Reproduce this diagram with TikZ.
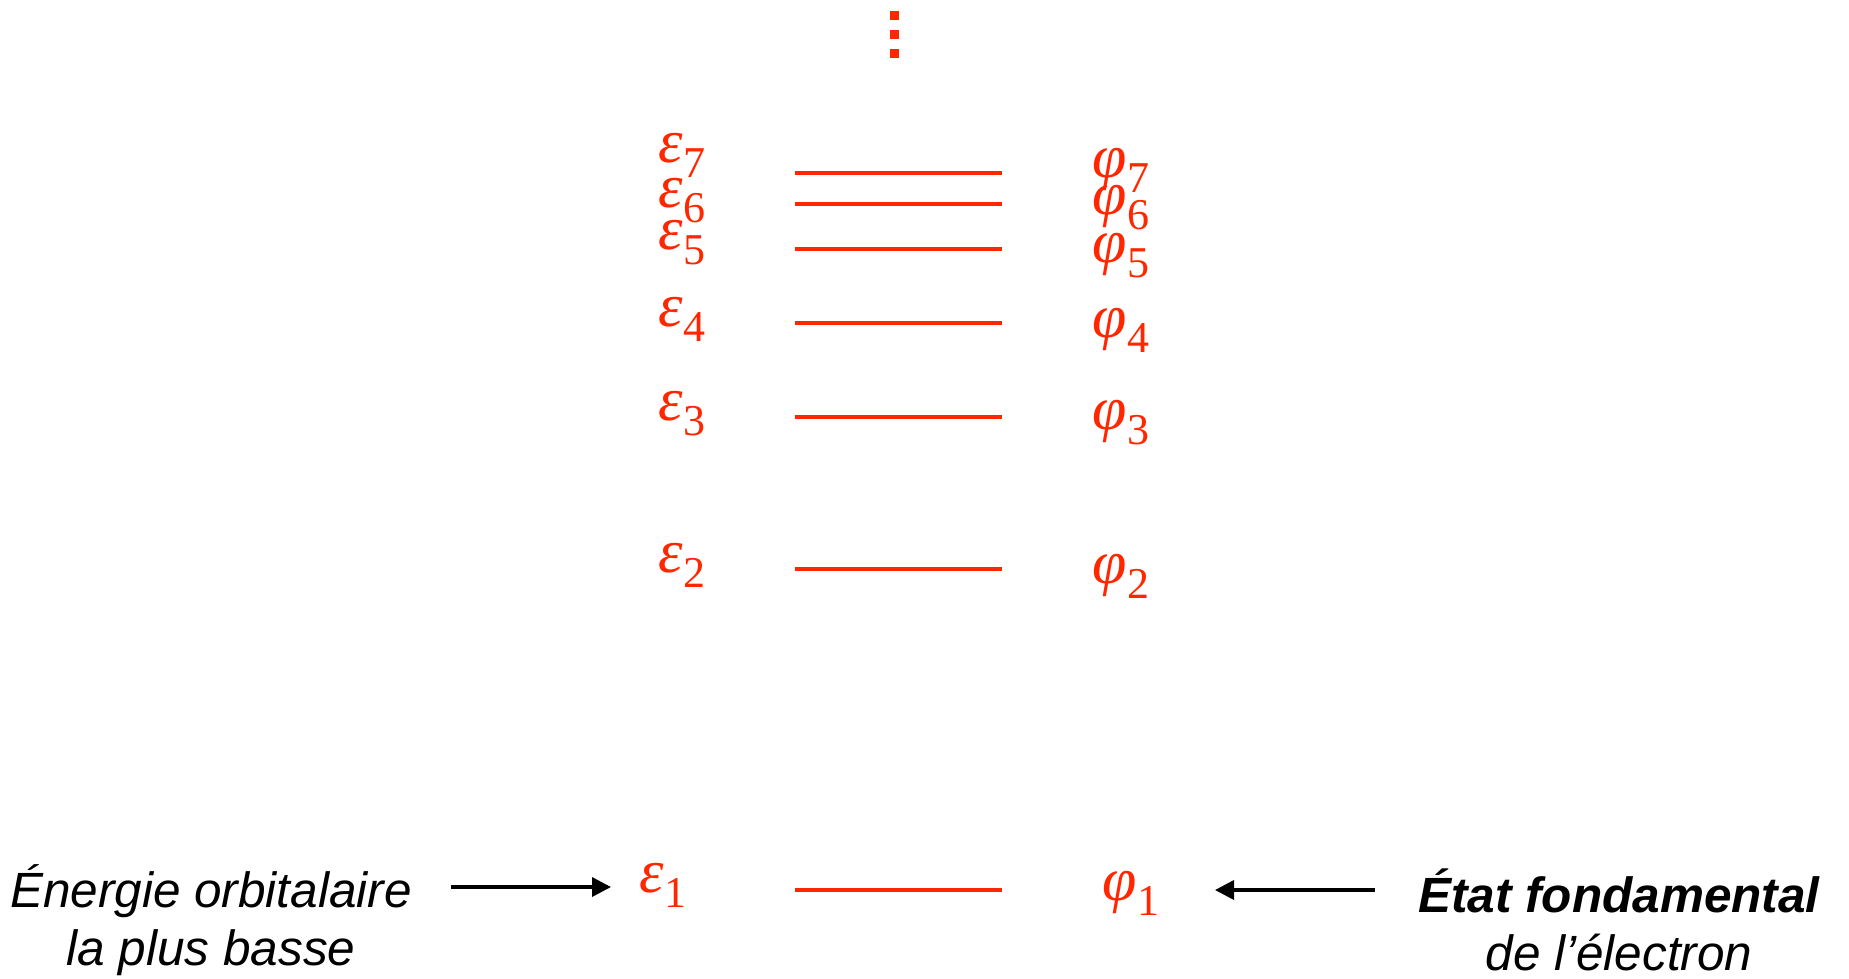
\documentclass[tikz,border=0pt]{standalone}
\usepackage{fontspec}
\setmainfont{Liberation Serif}
\newfontfamily\labelsans{Liberation Sans}
\usetikzlibrary{arrows.meta}
\definecolor{lvlred}{RGB}{255,38,0}
% energy label: italic Greek letter with a lowered upright index
\newcommand\lvllabel[2]{{\fontsize{62}{62}\selectfont\itshape #1}\raisebox{-0.24em}{\fontsize{44}{44}\selectfont #2}}
\begin{document}
\begin{tikzpicture}[x=1pt,y=-1pt,
  level/.style={draw=lvlred,line width=4.2pt},
  glabel/.style={text=lvlred,inner sep=0pt,font=\fontsize{62}{62}\selectfont},
  caption/.style={inner sep=0pt,align=center,font=\labelsans\fontsize{49.5}{58}\selectfont},
  pointer/.style={draw=black,line width=3.5pt,-{Triangle[length=19pt,width=19pt]}},
  dot/.style={fill=lvlred,minimum size=9pt,inner sep=0pt}]
\useasboundingbox (0,0) rectangle (1849,978);

% ellipsis above the spectrum
\node[dot] (d1) at (894,15) {};
\node[dot] (d2) at (894,34) {};
\node[dot] (d3) at (894,53) {};

% energy levels
\foreach \n/\y in {7/173,6/204,5/249,4/323,3/417,2/569,1/890}{
  \coordinate (L\n) at (795,\y);
  \coordinate (R\n) at (1002,\y);
  \draw[level] (L\n) -- (R\n);
}

% orbital energies (left) and orbitals (right)
\node[glabel] (e7) at (682,155) {\lvllabel{ε}{7}};
\node[glabel] (e6) at (682,201) {\lvllabel{ε}{6}};
\node[glabel] (e5) at (682,243) {\lvllabel{ε}{5}};
\node[glabel] (e4) at (682,319) {\lvllabel{ε}{4}};
\node[glabel] (e3) at (682,414) {\lvllabel{ε}{3}};
\node[glabel] (e2) at (682,565) {\lvllabel{ε}{2}};
\node[glabel] (e1) at (663,885) {\lvllabel{ε}{1}};

\node[glabel] (p7) at (1121,170) {\lvllabel{φ}{7}};
\node[glabel] (p6) at (1121,208) {\lvllabel{φ}{6}};
\node[glabel] (p5) at (1121,256) {\lvllabel{φ}{5}};
\node[glabel] (p4) at (1121,330) {\lvllabel{φ}{4}};
\node[glabel] (p3) at (1121,423) {\lvllabel{φ}{3}};
\node[glabel] (p2) at (1121,576) {\lvllabel{φ}{2}};
\node[glabel] (p1) at (1131,893) {\lvllabel{φ}{1}};

% captions
\node[caption] (lowest) at (211,920) {\itshape Énergie orbitalaire\\\itshape la plus basse};
\node[caption] (ground) at (1619,920) {\bfseries\itshape État fondamental\\\itshape de l’électron};

% pointers, from each caption towards its label
\coordinate (a1s) at (451,887);
\coordinate (a1e) at (611,887);
\coordinate (a2s) at (1375,890);
\coordinate (a2e) at (1215,890);
\draw[pointer] (a1s) -- (a1e);
\draw[pointer] (a2s) -- (a2e);
\end{tikzpicture}
\end{document}
